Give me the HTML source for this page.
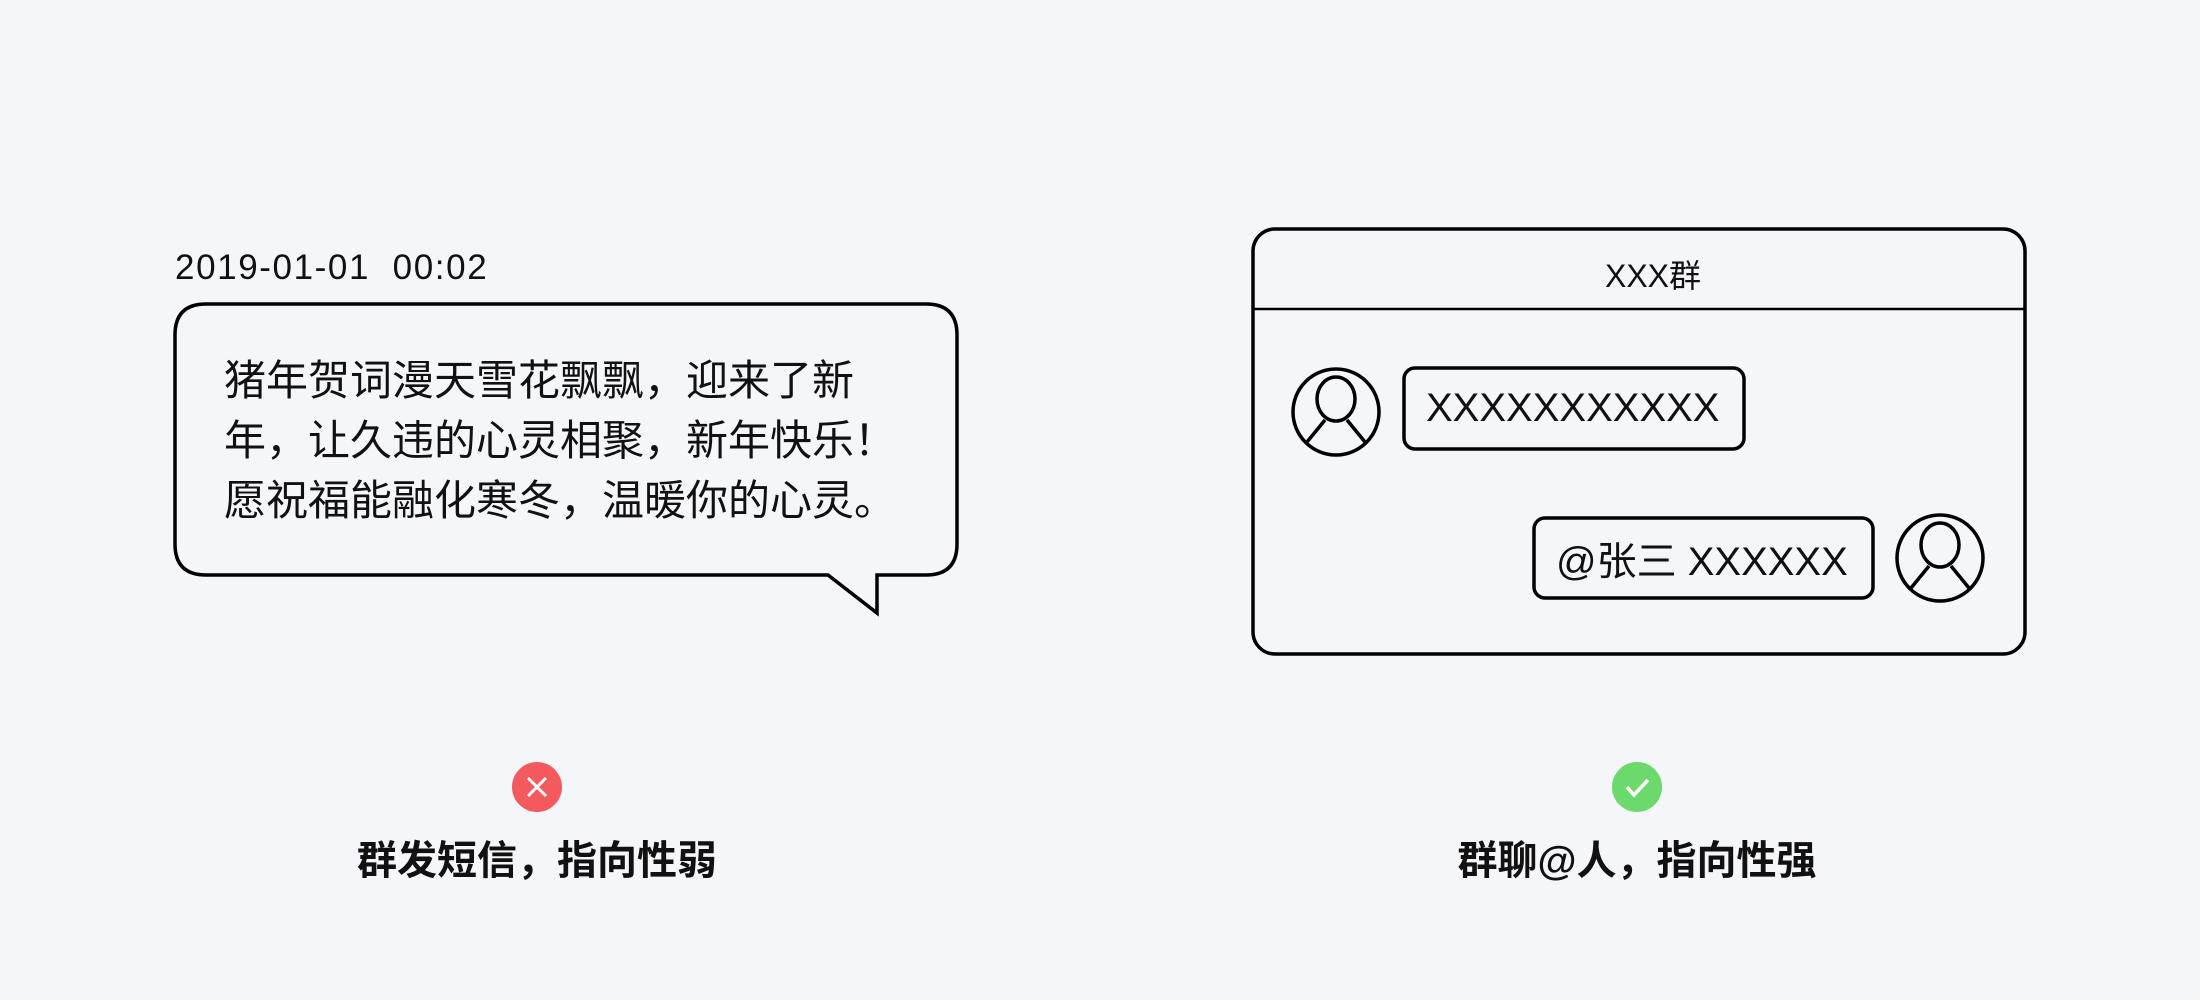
<!DOCTYPE html>
<html><head><meta charset="utf-8"><style>
html,body{margin:0;padding:0}
body{width:2200px;height:1000px;background:#f5f6fa;position:relative;overflow:hidden;font-family:"Liberation Sans","Noto Sans CJK SC",sans-serif;color:#111}
.t{position:absolute;white-space:nowrap}
</style></head><body>
<svg width="2200" height="1000" style="position:absolute;left:0;top:0" fill="none" stroke="#000">
<path d="M206,304 H926 Q957,304 957,335 V544 Q957,575 926,575 H877 V613 L828,575 H206 Q175,575 175,544 V335 Q175,304 206,304 Z" stroke-width="3.5" fill="#f5f6fa"/>
<rect x="1253" y="229" width="772" height="425" rx="22" stroke-width="3.5"/>
<line x1="1253" y1="309" x2="2025" y2="309" stroke-width="2.5"/>
<rect x="1404" y="368" width="340" height="81" rx="11" stroke-width="3.5"/>
<rect x="1534" y="518" width="339" height="80" rx="11" stroke-width="3.5"/>
<g stroke-width="3.5">
<circle cx="1336" cy="412" r="43"/>
<ellipse cx="1336" cy="399" rx="19" ry="22"/>
<path d="M1307,442 L1325,420 M1365,442 L1347,420"/>
<circle cx="1940" cy="558" r="43"/>
<ellipse cx="1940" cy="545" rx="19" ry="22"/>
<path d="M1911,588 L1929,566 M1969,588 L1951,566"/>
</g>
<circle cx="537" cy="787" r="25" fill="#f25a5e" stroke="none"/>
<path d="M528,778 L546,796 M546,778 L528,796" stroke="#fff" stroke-width="3"/>
<circle cx="1637" cy="787" r="25" fill="#6bd96b" stroke="none"/>
<path d="M1627,787 L1634,795 L1648,780" stroke="#fff" stroke-width="3.5"/>
</svg>
<div class="t" style="left:175px;top:248px;font-size:35px;letter-spacing:1.6px">2019-01-01&nbsp;&nbsp;00:02</div>
<div class="t" style="left:224px;top:351px;font-size:42px;line-height:60px">猪年贺词漫天雪花飘飘，迎来了新<br>年，让久违的心灵相聚，新年快乐！<br>愿祝福能融化寒冬，温暖你的心灵。</div>
<div class="t" style="left:1553px;top:251px;width:200px;text-align:center;font-size:32px">XXX群</div>
<div class="t" style="left:1426px;top:386px;font-size:40px">XXXXXXXXXXX</div>
<div class="t" style="left:1556px;top:529px;font-size:40px">@张三 XXXXXX</div>
<div class="t" style="left:287px;top:828px;width:500px;text-align:center;font-size:40px;font-weight:bold">群发短信，指向性弱</div>
<div class="t" style="left:1387px;top:828px;width:500px;text-align:center;font-size:40px;font-weight:bold">群聊@人，指向性强</div>
</body></html>
